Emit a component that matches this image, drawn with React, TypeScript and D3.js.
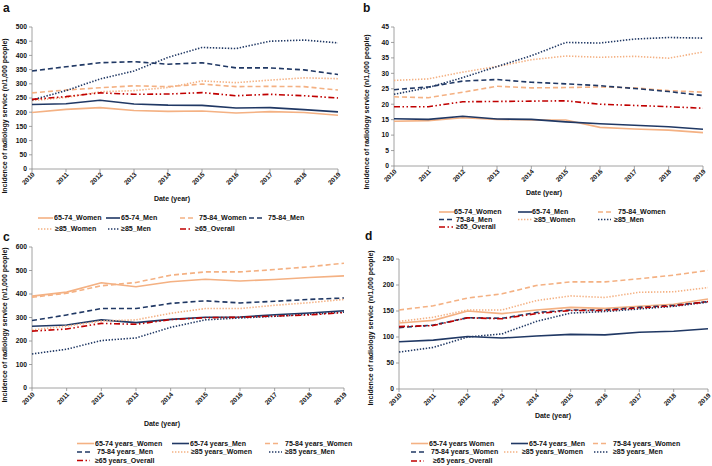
import React from "react";
import * as d3 from "d3";

const years = [2010, 2011, 2012, 2013, 2014, 2015, 2016, 2017, 2018, 2019];

// Panel a
const aW6574 = [199, 210, 216, 206, 203, 204, 197, 202, 199, 189];
const aM6574 = [227, 230, 242, 229, 225, 224, 215, 216, 209, 201];
const aW7584 = [268, 278, 286, 293, 290, 299, 290, 291, 290, 278];
const aM7584 = [345, 360, 374, 378, 369, 374, 356, 356, 349, 333];
const aW85 = [241, 252, 272, 276, 287, 310, 304, 313, 321, 318];
const aM85 = [243, 276, 317, 345, 393, 428, 424, 450, 454, 444];
const aAll = [245, 255, 268, 263, 264, 269, 258, 263, 258, 250];

// Panel b
const bW6574 = [14.5, 14.7, 15.6, 15.1, 14.9, 14.9, 12.5, 12.0, 11.6, 10.8];
const bM6574 = [15.3, 15.1, 16.1, 15.2, 15.1, 14.3, 13.7, 13.2, 12.7, 11.9];
const bW7584 = [22.4, 22.1, 23.9, 25.8, 25.3, 25.4, 25.6, 25.3, 24.4, 23.9];
const bM7584 = [24.7, 25.6, 27.5, 28.0, 27.1, 26.6, 26.0, 25.1, 24.1, 22.8];
const bW85 = [27.7, 28.2, 30.4, 32.2, 34.4, 35.6, 35.2, 35.5, 34.9, 36.9];
const bM85 = [23.2, 25.4, 28.6, 32.2, 35.7, 40.0, 39.8, 41.1, 41.6, 41.4];
const bAll = [19.2, 19.2, 20.8, 20.9, 21.0, 21.1, 20.0, 19.6, 19.2, 18.7];

// Panel c
const cW6574 = [391, 408, 448, 431, 452, 463, 455, 462, 470, 477];
const cM6574 = [263, 268, 290, 278, 292, 301, 302, 312, 319, 329];
const cW7584 = [386, 403, 435, 449, 480, 494, 494, 504, 516, 531];
const cM7584 = [287, 311, 338, 338, 360, 371, 362, 369, 377, 383];
const cW85 = [247, 263, 285, 290, 318, 338, 338, 352, 363, 377];
const cM85 = [145, 165, 202, 213, 258, 290, 298, 305, 314, 323];
const cAll = [242, 251, 275, 271, 291, 299, 301, 306, 311, 321];

// Panel d
const dW6574 = [127, 132, 150, 145, 152, 157, 155, 159, 163, 173];
const dM6574 = [91, 94, 101, 98, 102, 105, 104, 109, 111, 116];
const dW7584 = [152, 160, 175, 183, 199, 206, 206, 212, 219, 228];
const dM7584 = [118, 123, 137, 136, 147, 152, 152, 157, 161, 168];
const dW85 = [130, 138, 152, 152, 170, 179, 176, 186, 187, 195];
const dM85 = [71, 80, 100, 106, 130, 146, 149, 154, 159, 167];
const dAll = [120, 122, 137, 135, 145, 151, 151, 156, 160, 168];

const legendA = ["65-74_Women", "65-74_Men", "75-84_Women", "75-84_Men", "≥85_Women", "≥85_Men", "≥65_Overall"];
const legendC = ["65-74 years_Women", "65-74 years_Men", "75-84 years_Women", "75-84 years_Men", "≥85 years_Women", "≥85 years_Men", "≥65 years_Overall"];
const legendD = ["65-74 years Women", "65-74 years_Men", "75-84 years_Women", "75-84 years_Women", "≥85 years_Women", "≥85 years_Men", "≥65 years_Overall"];

const yTitle = "Incidence of radiology service (n/1,000 people)";
const FONT = "'Liberation Sans', Arial, sans-serif";
const ORANGE = "#F4B183";
const NAVY = "#203864";
const RED = "#C00000";

type Style = { color: string; dash: string };
const styles: Style[] = [
  { color: ORANGE, dash: "" },
  { color: NAVY, dash: "" },
  { color: ORANGE, dash: "5,3" },
  { color: NAVY, dash: "5,3" },
  { color: ORANGE, dash: "1.4,1.6" },
  { color: NAVY, dash: "1.4,1.6" },
  { color: RED, dash: "6,2.5,1.5,2.5,1.5,2.5" },
];

type LegendPos = { lx: number; ly: number; tx: number; len: number };

type PanelProps = {
  letter: string;
  letterX: number;
  letterY: number;
  x0: number;
  x1: number;
  yTop: number;
  yBot: number;
  yMax: number;
  yStep: number;
  titleX: number;
  titleY: number;
  tickLabelY: number;
  dateX: number;
  dateY: number;
  legendFont: number;
  series: number[][];
  labels: string[];
  legend: LegendPos[];
};

function Panel(p: PanelProps) {
  const x = d3.scaleLinear().domain([years[0], years[years.length - 1]]).range([p.x0, p.x1]);
  const y = d3.scaleLinear().domain([0, p.yMax]).range([p.yBot, p.yTop]);
  const yTicks = d3.range(0, p.yMax + p.yStep / 2, p.yStep);
  const line = d3
    .line<number>()
    .x((_, i) => x(years[i]))
    .y((v) => y(v));
  const order = [0, 1, 2, 3, 4, 5, 6];
  return (
    <g fontFamily={FONT}>
      <text x={p.letterX} y={p.letterY} fontSize={12} fontWeight="bold" fill="#111">
        {p.letter}
      </text>
      <line x1={p.x0} x2={p.x0} y1={p.yTop} y2={p.yBot} stroke="#8a8a8a" strokeWidth={0.8} />
      <line x1={p.x0} x2={p.x1} y1={p.yBot} y2={p.yBot} stroke="#8a8a8a" strokeWidth={0.8} />
      {yTicks.map((t) => (
        <g key={"y" + t}>
          <line x1={p.x0 - 3} x2={p.x0} y1={y(t)} y2={y(t)} stroke="#8a8a8a" strokeWidth={0.8} />
          <text x={p.x0 - 5} y={y(t)} dy="0.35em" textAnchor="end" fontSize={6.7} fontWeight="bold" fill="#111">
            {t}
          </text>
        </g>
      ))}
      {years.map((yr) => (
        <g key={"x" + yr}>
          <line x1={x(yr)} x2={x(yr)} y1={p.yBot} y2={p.yBot + 3} stroke="#8a8a8a" strokeWidth={0.8} />
          <text
            transform={`translate(${x(yr) + 3},${p.tickLabelY}) rotate(-45)`}
            textAnchor="end"
            fontSize={6.5}
            fontWeight="bold"
            fill="#111"
          >
            {yr}
          </text>
        </g>
      ))}
      <text
        transform={`translate(${p.titleX},${p.titleY}) rotate(-90)`}
        textAnchor="middle"
        fontSize={7}
        fontWeight="bold"
        fill="#111"
      >
        {yTitle}
      </text>
      <text x={p.dateX} y={p.dateY} textAnchor="middle" fontSize={7} fontWeight="bold" fill="#111">
        Date (year)
      </text>
      {order.map((i) => (
        <path
          key={"s" + i}
          d={line(p.series[i]) || ""}
          fill="none"
          stroke={styles[i].color}
          strokeWidth={1.6}
          strokeDasharray={styles[i].dash}
          strokeLinejoin="round"
        />
      ))}
      {p.legend.map((lg, i) => (
        <g key={"l" + i}>
          <line
            x1={lg.lx}
            x2={lg.lx + lg.len}
            y1={lg.ly}
            y2={lg.ly}
            stroke={styles[i].color}
            strokeWidth={1.6}
            strokeDasharray={styles[i].dash}
          />
          <text x={lg.tx} y={lg.ly} dy="0.35em" fontSize={p.legendFont} fontWeight="bold" fill="#111">
            {p.labels[i]}
          </text>
        </g>
      ))}
    </g>
  );
}

export default function App() {
  return (
    <svg
      width={712}
      height={466}
      style={{ position: "absolute", left: 0, top: 0, background: "#fff" }}
    >
      <rect width={712} height={466} fill="#fff" />
      <Panel
        letter="a"
        letterX={3}
        letterY={12}
        x0={32}
        x1={338}
        yTop={27}
        yBot={169}
        yMax={500}
        yStep={50}
        titleX={7}
        titleY={116}
        tickLabelY={175}
        dateX={172}
        dateY={201}
        legendFont={7.1}
        series={[aW6574, aM6574, aW7584, aM7584, aW85, aM85, aAll]}
        labels={legendA}
        legend={[
          { lx: 38, ly: 218, tx: 54, len: 15 },
          { lx: 106, ly: 218, tx: 121, len: 14 },
          { lx: 180, ly: 218, tx: 199, len: 14 },
          { lx: 249, ly: 218, tx: 268, len: 15 },
          { lx: 38, ly: 229, tx: 55, len: 15 },
          { lx: 108, ly: 229, tx: 121, len: 11 },
          { lx: 180, ly: 229, tx: 195, len: 12 },
        ]}
      />
      <Panel
        letter="b"
        letterX={363}
        letterY={12}
        x0={394}
        x1={703}
        yTop={27}
        yBot={166}
        yMax={45}
        yStep={5}
        titleX={369}
        titleY={112}
        tickLabelY={172}
        dateX={544}
        dateY={195}
        legendFont={7.1}
        series={[bW6574, bM6574, bW7584, bM7584, bW85, bM85, bAll]}
        labels={legendA}
        legend={[
          { lx: 439, ly: 212, tx: 454, len: 15 },
          { lx: 518, ly: 212, tx: 532, len: 14 },
          { lx: 598, ly: 212, tx: 618, len: 14 },
          { lx: 439, ly: 219.5, tx: 456, len: 14 },
          { lx: 518, ly: 219.5, tx: 534, len: 14 },
          { lx: 598, ly: 219.5, tx: 614, len: 13 },
          { lx: 439, ly: 227, tx: 456, len: 14 },
        ]}
      />
      <Panel
        letter="c"
        letterX={3}
        letterY={241}
        x0={32}
        x1={344}
        yTop={247}
        yBot={388}
        yMax={600}
        yStep={100}
        titleX={7}
        titleY={325}
        tickLabelY={395}
        dateX={162}
        dateY={426}
        legendFont={7}
        series={[cW6574, cM6574, cW7584, cM7584, cW85, cM85, cAll]}
        labels={legendC}
        legend={[
          { lx: 77, ly: 443.5, tx: 95, len: 17 },
          { lx: 172, ly: 443.5, tx: 190, len: 17 },
          { lx: 265, ly: 443.5, tx: 285, len: 13 },
          { lx: 77, ly: 452, tx: 97, len: 13 },
          { lx: 172, ly: 452, tx: 191, len: 17 },
          { lx: 269, ly: 452, tx: 285, len: 13 },
          { lx: 77, ly: 460.5, tx: 95, len: 13 },
        ]}
      />
      <Panel
        letter="d"
        letterX={365}
        letterY={240}
        x0={399}
        x1={708}
        yTop={259}
        yBot={389}
        yMax={250}
        yStep={50}
        titleX={373}
        titleY={328}
        tickLabelY={396}
        dateX={553}
        dateY={418}
        legendFont={7}
        series={[dW6574, dM6574, dW7584, dM7584, dW85, dM85, dAll]}
        labels={legendD}
        legend={[
          { lx: 411, ly: 443.5, tx: 429, len: 17 },
          { lx: 511, ly: 443.5, tx: 529, len: 17 },
          { lx: 593, ly: 443.5, tx: 613, len: 13 },
          { lx: 411, ly: 452, tx: 431, len: 13 },
          { lx: 504, ly: 452, tx: 522, len: 14 },
          { lx: 594, ly: 452, tx: 613, len: 14 },
          { lx: 411, ly: 461, tx: 433, len: 13 },
        ]}
      />
    </svg>
  );
}
